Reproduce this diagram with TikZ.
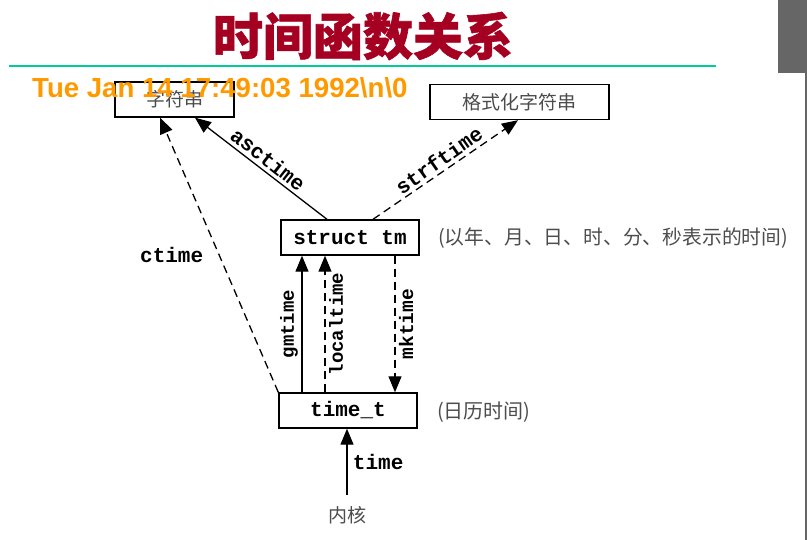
\documentclass[tikz,border=0pt]{standalone}
\usepackage{fontspec}
\usetikzlibrary{arrows.meta}
\setmainfont{Liberation Sans}
\setmonofont{Liberation Mono}
\newfontfamily\cjk[BoldFeatures={FakeBold=1.2}]{Noto Sans CJK SC}
\definecolor{titlered}{RGB}{165,0,33}
\definecolor{stamporange}{RGB}{255,153,0}
\definecolor{rulegreen}{RGB}{0,204,153}
\definecolor{bargray}{RGB}{102,102,102}
\newcommand{\fsz}[1]{\fontsize{#1}{#1}\selectfont}
\newcommand{\fn}[2][21]{\fsz{#1}\ttfamily\bfseries #2}

\begin{document}
\begin{tikzpicture}[x=1pt,y=-1pt,
  box/.style={draw,line width=1.4pt,minimum height=35pt,inner sep=0pt},
  note/.style={text=black!70,font=\cjk\fsz{19.8},inner sep=0pt,anchor=west},
  call/.style={line width=1.3pt,-{Triangle[length=16pt,width=13pt]}},
  calldash/.style={call,dash pattern=on 8pt off 5pt}]
  \useasboundingbox (0,0) rectangle (807,540);
  \fill[bargray] (778,0) rectangle (807,73);
  \fill[bargray] (805,73) rectangle (807,540);
  \node[text=titlered,font=\cjk\bfseries\fsz{50}] (title) at (363,36) {时间函数关系};
  \draw[draw=rulegreen,line width=1.5pt] (9,66) -- (716,66);

  \node[box,minimum width=119pt,font=\cjk\fsz{19},text=black!70] (str) at (174.5,99.5) {字符串};
  \node[box,minimum width=179pt,font=\cjk\fsz{19},text=black!70] (fmt) at (519.5,102) {格式化字符串};
  \node[box,minimum width=138pt,font=\fsz{21}\ttfamily\bfseries] (tm) at (350,237.5) {struct tm};
  \node[box,minimum width=138pt,font=\fsz{21}\ttfamily\bfseries] (tt) at (348,410.5) {time\_t};
  \node[note] (tmnote) at (438,238) {(以年、月、日、时、分、秒表示的时间)};
  \node[note,font=\cjk\fsz{20}] (ttnote) at (437,412) {(日历时间)};
  \node[font=\cjk\fsz{19},text=black!70] (kern) at (347,515) {内核};

  \draw[call] ([xshift=-23pt]tm.north) -- ([xshift=20.5pt]str.south)
    node[midway,rotate=-38,anchor=south] {\fn{asctime}};
  \draw[calldash] ([xshift=23pt]tm.north) -- ([xshift=-1.5pt]fmt.south)
    node[midway,rotate=35,anchor=south] {\fn{strftime}};
  \draw[calldash] (tt.north west) -- ([xshift=-14.5pt]str.south)
    node[midway,left=12pt] {\fn{ctime}};
  \draw[call] ([xshift=-48pt]tm.south |- tt.north) -- ([xshift=-48pt]tm.south)
    node[midway,rotate=90,anchor=south] {\fn[19]{gmtime}};
  \draw[calldash] ([xshift=-25pt]tm.south |- tt.north) -- ([xshift=-25pt]tm.south)
    node[midway,rotate=90,anchor=north] {\fn[19]{localtime}};
  \draw[calldash] ([xshift=45pt]tm.south) -- ([xshift=45pt]tm.south |- tt.north)
    node[midway,rotate=90,anchor=north] {\fn[19.5]{mktime}};
  \draw[call] ([yshift=8pt]kern.north) -- (kern.north |- tt.south)
    node[midway,right=2pt] {\fn{time}};

  \node[text=stamporange,font=\bfseries\fsz{27.6},inner sep=0pt,anchor=base west] (stamp) at (32,98) {Tue Jan 14 17:49:03 1992\textbackslash n\textbackslash 0};
\end{tikzpicture}
\end{document}
